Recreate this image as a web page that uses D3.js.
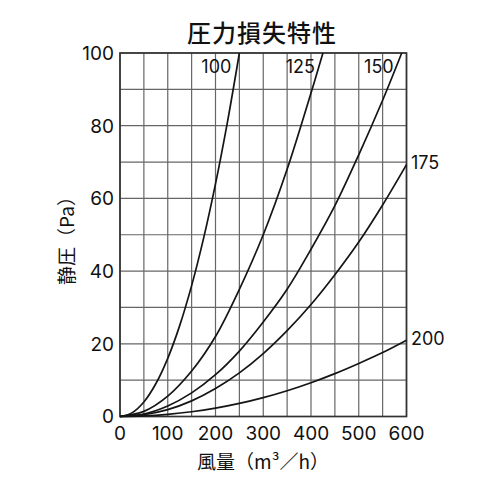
<!DOCTYPE html>
<html>
<head>
<meta charset="utf-8">
<script src="https://cdn.jsdelivr.net/npm/d3@7"></script>
<style>
  body { margin: 0; background: #fff; }
  text { font-family: Inter, "Liberation Sans", Arial, sans-serif; fill: #111; }
  .jp { font-family: "Noto Sans CJK JP", sans-serif; }
</style>
</head>
<body>
<svg id="chart"></svg>
<script>
// Chart size
const width = 500;
const height = 500;

// Axis ticks
const xTicks = [0, 100, 200, 300, 400, 500, 600];
const yTicks = [0, 20, 40, 60, 80, 100];
const xGrid = d3.range(0, 601, 50);
const yGrid = d3.range(0, 101, 10);

// Curve names (duct size)
const sizes = ["100", "125", "150", "175", "200"];

// Airflow (m3/h) / static pressure (Pa)
const q100 = [0, 25, 50, 75, 100, 125, 150, 175, 200, 225, 250];
const p100 = [0, 1, 4, 9, 16, 25, 36, 49, 64, 81, 100];
const q125 = [0, 50, 100, 150, 200, 250, 300, 350, 400, 425];
const p125 = [0, 1.4, 5.6, 12.5, 22, 35, 50, 68, 89, 100];
const q150 = [0, 50, 100, 150, 200, 250, 300, 350, 400, 450, 500, 550, 590];
const p150 = [0, 0.7, 2.9, 6.5, 11.5, 18, 26, 35, 46, 58, 72, 87, 100];
const q175 = [0, 50, 100, 150, 200, 250, 300, 350, 400, 450, 500, 550, 600];
const p175 = [0, 0.5, 1.9, 4.3, 7.7, 12, 17.3, 23.6, 30.8, 39, 48, 58.2, 69.3];
const q200 = [0, 50, 100, 150, 200, 250, 300, 350, 400, 450, 500, 550, 600];
const p200 = [0, 0.15, 0.6, 1.3, 2.3, 3.6, 5.2, 7.1, 9.3, 11.8, 14.6, 17.6, 21];

const series = [
  { name: sizes[0], q: q100, p: p100 },
  { name: sizes[1], q: q125, p: p125 },
  { name: sizes[2], q: q150, p: p150 },
  { name: sizes[3], q: q175, p: p175 },
  { name: sizes[4], q: q200, p: p200 }
];

const svg = d3.select("#chart")
    .attr("width", width)
    .attr("height", height);

// Plot area
const x = d3.scaleLinear().domain([0, 600]).range([120, 406.5]);
const y = d3.scaleLinear().domain([0, 100]).range([416.5, 53]);

// Grid
const grid = svg.append("g")
    .attr("stroke", "#666")
    .attr("stroke-width", 1.2);

grid.selectAll("line.v")
    .data(xGrid)
    .enter().append("line")
    .attr("x1", d => x(d)).attr("x2", d => x(d))
    .attr("y1", y(0)).attr("y2", y(100));

grid.selectAll("line.h")
    .data(yGrid)
    .enter().append("line")
    .attr("x1", x(0)).attr("x2", x(600))
    .attr("y1", d => y(d)).attr("y2", d => y(d));

// Frame
svg.append("rect")
    .attr("x", x(0)).attr("y", y(100))
    .attr("width", x(600) - x(0))
    .attr("height", y(0) - y(100))
    .attr("fill", "none")
    .attr("stroke", "#333")
    .attr("stroke-width", 1.7);

// Curves
const line = d3.line()
    .x(d => x(d[0]))
    .y(d => y(d[1]))
    .curve(d3.curveCatmullRom.alpha(0.5));

svg.append("g")
    .selectAll("path")
    .data(series)
    .enter().append("path")
    .attr("d", s => line(s.q.map((q, i) => [q, s.p[i]])))
    .attr("fill", "none")
    .attr("stroke", "#151515")
    .attr("stroke-width", 1.7);

// Tick labels
svg.append("g")
    .selectAll("text")
    .data(xTicks)
    .enter().append("text")
    .attr("x", d => x(d))
    .attr("y", 440)
    .attr("text-anchor", "middle")
    .attr("font-size", 19)
    .text(d => d);

svg.append("g")
    .selectAll("text")
    .data(yTicks)
    .enter().append("text")
    .attr("x", 114)
    .attr("y", d => y(d))
    .attr("dy", "0.36em")
    .attr("text-anchor", "end")
    .attr("font-size", 19)
    .text(d => d);

// Curve labels: top ones sit left of where the curve leaves the top edge,
// right ones sit after the end at x = 600
const topLabels = series.slice(0, 3);
svg.append("g")
    .selectAll("text")
    .data(topLabels)
    .enter().append("text")
    .attr("x", s => x(s.q[s.q.length - 1]) - 8)
    .attr("y", 73)
    .attr("text-anchor", "end")
    .attr("font-size", 18)
    .text(s => s.name);

const sideLabels = series.slice(3);
svg.append("g")
    .selectAll("text")
    .data(sideLabels)
    .enter().append("text")
    .attr("x", 411)
    .attr("y", s => y(s.p[s.p.length - 1]) - 2)
    .attr("dy", "0.36em")
    .attr("font-size", 18)
    .text(s => s.name);

// Title and axis titles
svg.append("text")
    .attr("class", "jp")
    .attr("x", 262)
    .attr("y", 33)
    .attr("dy", "0.36em")
    .attr("text-anchor", "middle")
    .attr("font-size", 24)
    .attr("font-weight", 500)
    .attr("letter-spacing", 1)
    .text("圧力損失特性");

svg.append("text")
    .attr("class", "jp")
    .attr("x", 263)
    .attr("y", 462)
    .attr("dy", "0.36em")
    .attr("text-anchor", "middle")
    .attr("font-size", 19)
    .text("風量（m³／h）");

svg.append("text")
    .attr("class", "jp")
    .attr("transform", "translate(67,236) rotate(-90)")
    .attr("dy", "0.36em")
    .attr("text-anchor", "middle")
    .attr("font-size", 19)
    .text("静圧（Pa）");
</script>
</body>
</html>
